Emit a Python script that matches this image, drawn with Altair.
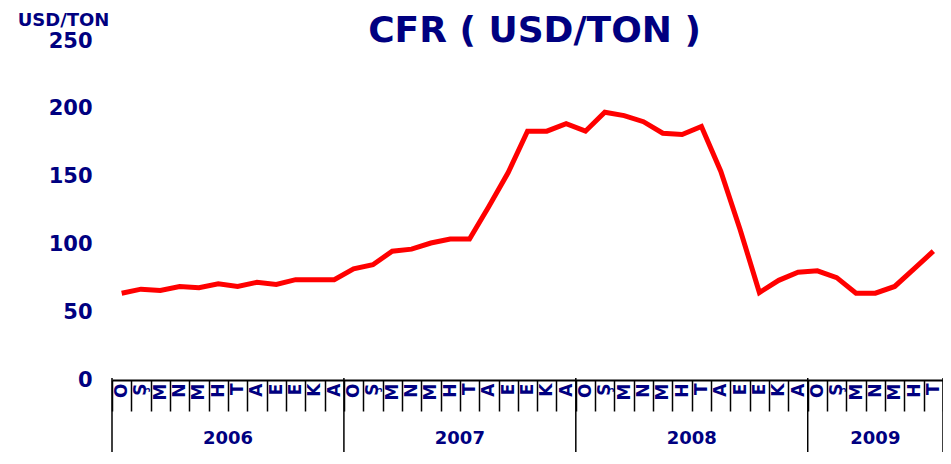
import json
import altair as alt
import pandas as pd

# ---- data ----
title_text = ["CFR ( USD/TON )"]
years = ["2006", "2007", "2008", "2009"]
months_per_year = [12, 12, 12, 7]
month_letters = ["O", "Ş", "M", "N", "M", "H", "T", "A", "E", "E", "K", "A"]
cfr_values = [
    64, 67, 66, 69, 68, 71, 69, 72, 70.5, 74, 74, 74,            # 2006
    82, 85, 95, 96.5, 101, 104, 104, 128, 153, 183.5, 183.5, 189,  # 2007
    183.5, 197.5, 195, 190.5, 182, 181, 187, 154, 111, 64.5, 73.5, 79.5,  # 2008
    80.5, 75.5, 64, 64, 69, 82, 95,                               # 2009
]
y_ticks = [0, 50, 100, 150, 200, 250]

# ---- derived tables ----
labels = []
for n in months_per_year:
    labels += month_letters[:n]
n_months = len(labels)

line_df = pd.DataFrame({"pos": [i + 0.5 for i in range(n_months)], "value": cfr_values})

starts = [0]
for n in months_per_year:
    starts.append(starts[-1] + n)
bounds_df = pd.DataFrame({"b": starts})
year_df = pd.DataFrame({
    "year": years,
    "mid": [(starts[i] + starts[i + 1]) / 2 for i in range(len(years))],
})
title_df = pd.DataFrame({"t": title_text})

NAVY = "#000080"
FONT = "DejaVu Sans"
W, H = 831, 339
cell = W / n_months

label_expr = "datum.value < %d ? %s[datum.value] : ''" % (n_months, json.dumps(labels, ensure_ascii=False))

xscale = alt.Scale(domain=[0, n_months], nice=False, zero=False)

line = alt.Chart(line_df).mark_line(color="#FF0000", strokeWidth=5).encode(
    x=alt.X("pos:Q", scale=xscale, axis=alt.Axis(
        values=list(range(n_months + 1)),
        title=None, grid=False,
        tickSize=31, tickWidth=1.5, tickColor="black",
        domainColor="black", domainWidth=2,
        labelExpr=label_expr, labelAngle=270, labelOffset=cell / 2,
        labelPadding=-28, labelFlush=False, labelOverlap=False,
        labelFont=FONT, labelFontSize=17, labelFontWeight="bold", labelColor=NAVY,
    )),
    y=alt.Y("value:Q", scale=alt.Scale(domain=[0, 250], nice=False), axis=alt.Axis(
        values=y_ticks, grid=False, domain=False, ticks=False,
        labelPadding=20, labelFont=FONT, labelFontSize=21, labelFontWeight="bold",
        labelColor=NAVY,
        title="USD/TON", titleAngle=0, titleX=-49, titleY=-16,
        titleAlign="center", titleBaseline="alphabetic",
        titleFont=FONT, titleFontSize=18, titleFontWeight="bold", titleColor=NAVY,
    )),
)

year_rules = alt.Chart(bounds_df).mark_rule(color="black", strokeWidth=1.5).encode(
    x=alt.X("b:Q", scale=xscale, axis=None),
    y=alt.value(H - 2),
    y2=alt.value(H + 72),
)

year_text = alt.Chart(year_df).mark_text(
    font=FONT, fontSize=18, fontWeight="bold", color=NAVY, baseline="alphabetic"
).encode(
    x=alt.X("mid:Q", scale=xscale, axis=None),
    y=alt.value(H + 64),
    text="year:N",
)

title = alt.Chart(title_df).mark_text(
    font=FONT, fontSize=36, fontWeight="bold", color=NAVY,
    baseline="alphabetic", align="center",
).encode(
    x=alt.value(W / 2 + 7),
    y=alt.value(0.5),
    text="t:N",
)

chart = alt.layer(line, year_rules, year_text, title).resolve_axis(
    x="independent", y="independent"
).properties(
    width=W, height=H,
    autosize=alt.AutoSizeParams(type="none"),
    padding={"left": 104, "top": 33, "right": 0, "bottom": 76},
).configure_view(strokeWidth=0)

chart.save("out.html", embed_options={"renderer": "svg", "actions": False})
